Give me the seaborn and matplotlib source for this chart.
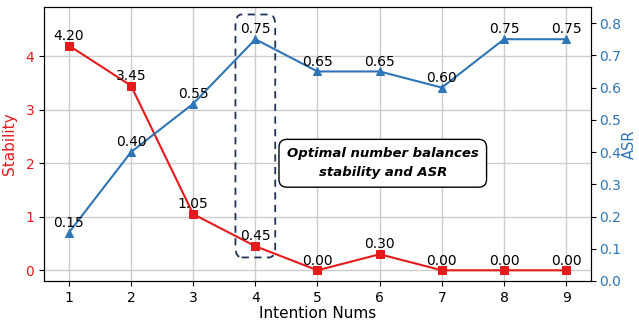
import matplotlib
matplotlib.use("Agg")
import matplotlib.pyplot as plt
import pandas as pd
import seaborn as sns
from matplotlib.patches import FancyBboxPatch

# data
nums = [1, 2, 3, 4, 5, 6, 7, 8, 9]
stability = [4.20, 3.45, 1.05, 0.45, 0.00, 0.30, 0.00, 0.00, 0.00]
asr = [0.15, 0.40, 0.55, 0.75, 0.65, 0.65, 0.60, 0.75, 0.75]

red = "#e41a1c"
blue = "#2e75b6"

df = pd.DataFrame({"Intention Nums": nums, "Stability": stability, "ASR": asr})

sns.set_style("white")
plt.rcParams["font.family"] = ["DejaVu Sans"]
plt.rcParams["text.color"] = "black"
plt.rcParams["axes.labelcolor"] = "black"
plt.rcParams["xtick.color"] = "black"
plt.rcParams["ytick.color"] = "black"

fig, ax1 = plt.subplots(figsize=(6.39, 3.24), dpi=100)
ax2 = ax1.twinx()

sns.lineplot(data=df, x="Intention Nums", y="Stability", ax=ax1, color=red,
             marker="s", markersize=6, markeredgecolor=red, linewidth=1.5, zorder=3)
sns.lineplot(data=df, x="Intention Nums", y="ASR", ax=ax2, color=blue,
             marker="^", markersize=6, markeredgecolor=blue, linewidth=1.5, zorder=3)

for x, y in zip(nums, stability):
    ax1.annotate(f"{y:.2f}", (x, y), textcoords="offset points", xytext=(0, 2),
                 ha="center", va="bottom", fontsize=10, color="black")
for x, y in zip(nums, asr):
    ax2.annotate(f"{y:.2f}", (x, y), textcoords="offset points", xytext=(0, 2),
                 ha="center", va="bottom", fontsize=10, color="black")

ax1.set_xlim(0.6, 9.4)
ax1.set_ylim(-0.2, 4.92)
ax2.set_ylim(0, 0.85)
ax1.set_xticks(nums)
ax1.set_yticks([0, 1, 2, 3, 4])
ax2.set_yticks([0.0, 0.1, 0.2, 0.3, 0.4, 0.5, 0.6, 0.7, 0.8])

ax1.grid(True, color="#cccccc", linewidth=1)
ax1.set_axisbelow(True)
ax2.grid(False)

ax1.set_xlabel("Intention Nums", fontsize=11, labelpad=1)
ax1.set_ylabel("Stability", color=red, fontsize=11, labelpad=6)
ax2.set_ylabel("ASR", color=blue, fontsize=10.5)
ax1.tick_params(axis="y", labelcolor=red, labelsize=10, left=True, length=3.5)
ax1.tick_params(axis="x", labelsize=10, bottom=True, length=3.5)
ax2.tick_params(axis="y", labelcolor=blue, labelsize=10, right=True, length=3.5, pad=2)
for a in (ax1, ax2):
    for s in a.spines.values():
        s.set_color("black")

# dashed highlight around x=4
box = FancyBboxPatch((3.68, 0.24), 0.64, 4.54, boxstyle="round,pad=0,rounding_size=0.1",
                     fill=False, edgecolor="#1f3456", linestyle=(0, (4, 3)), linewidth=1.3,
                     zorder=4, mutation_aspect=2.0)
ax1.add_patch(box)

ax1.text(6.05, 2.0, "Optimal number balances\nstability and ASR", ha="center", va="center",
         fontsize=9.5, fontweight="bold", fontstyle="italic", zorder=5, linespacing=1.6,
         bbox=dict(boxstyle="round,pad=0.6", facecolor="white", edgecolor="black", linewidth=1))

fig.subplots_adjust(left=44 / 639, right=591 / 639, top=1 - 7 / 324, bottom=1 - 281 / 324)
ax2.yaxis.set_label_coords(1.070, 0.5)
ax2.yaxis.label.set_va("center")
fig.savefig("out.png", dpi=100)
